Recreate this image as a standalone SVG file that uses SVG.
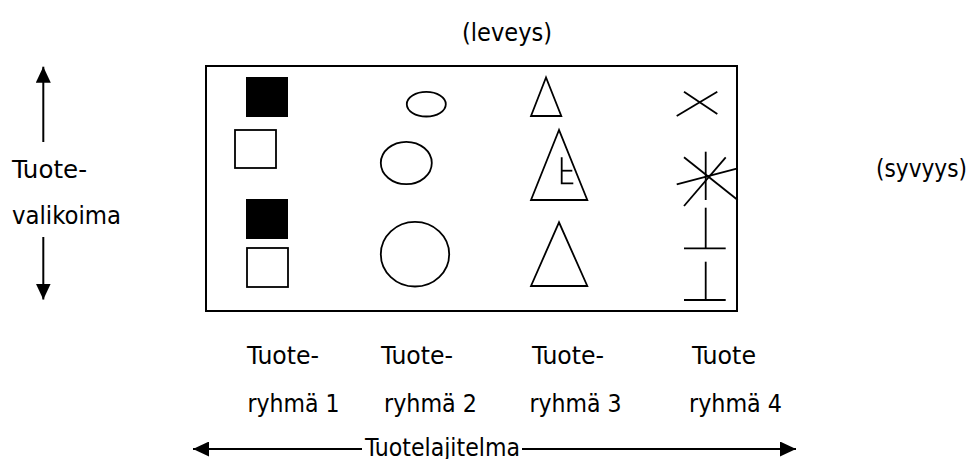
<svg xmlns="http://www.w3.org/2000/svg" width="969" height="459" viewBox="0 0 969 459">
  <style>
    .lbl { font-family: 'DejaVu Sans Condensed', 'DejaVu Sans', sans-serif; font-size: 25px; fill: #000; }
    .shape { fill: none; stroke: #000; stroke-width: 1.8; }
    .solid { fill: #000; stroke: none; }
    .frame { fill: #fff; stroke: #000; stroke-width: 2; }
    .arrow { stroke: #000; stroke-width: 2; fill: none; }
  </style>
  <defs>
    <marker id="head" viewBox="0 0 16 15" refX="16" refY="7.5" markerWidth="16" markerHeight="15" markerUnits="userSpaceOnUse" orient="auto">
      <path d="M0,0 L16,7.5 L0,15 Z" fill="#000"/>
    </marker>
  </defs>

  <rect width="969" height="459" fill="#fff"/>

  <!-- assortment frame -->
  <g id="frame">
    <rect class="frame" x="206" y="66" width="531" height="245"/>
  </g>

  <!-- group 1: squares -->
  <g id="group1">
    <rect class="solid" x="246" y="77" width="42" height="40"/>
    <rect class="shape" x="235" y="130" width="41" height="38"/>
    <rect class="solid" x="246" y="199" width="42" height="40"/>
    <rect class="shape" x="247" y="248" width="41" height="39"/>
  </g>

  <!-- group 2: ellipses -->
  <g id="group2">
    <ellipse class="shape" cx="426.3" cy="104.2" rx="19.5" ry="12.3"/>
    <ellipse class="shape" cx="406.3" cy="163" rx="25.5" ry="21.2"/>
    <ellipse class="shape" cx="415" cy="254.2" rx="34.2" ry="32.3"/>
  </g>

  <!-- group 3: triangles -->
  <g id="group3">
    <polygon class="shape" points="546,77.5 531,116 561.3,116"/>
    <polygon class="shape" points="559,130 531,200 587.3,200"/>
    <polyline class="shape" points="561.7,157.3 561.7,183.3 573.3,183.3"/>
    <line class="shape" x1="561.7" y1="170.7" x2="572.3" y2="170.7"/>
    <polygon class="shape" points="559,222.3 531,286 587.3,286"/>
  </g>

  <!-- group 4: crosses and stands -->
  <g id="group4">
    <line class="shape" x1="676.7" y1="116" x2="717.3" y2="91.7"/>
    <line class="shape" x1="684" y1="91.7" x2="717.3" y2="114"/>
    <line class="shape" x1="705.7" y1="151.7" x2="705.7" y2="200"/>
    <line class="shape" x1="684" y1="157.3" x2="737.7" y2="200"/>
    <line class="shape" x1="684" y1="206" x2="725.7" y2="157.3"/>
    <line class="shape" x1="676.7" y1="184.3" x2="737.7" y2="168.3"/>
    <line class="shape" x1="705.7" y1="207.7" x2="705.7" y2="248.3"/>
    <line class="shape" x1="684" y1="248.3" x2="725.7" y2="248.3"/>
    <line class="shape" x1="705.7" y1="261.7" x2="705.7" y2="300"/>
    <line class="shape" x1="684" y1="300" x2="725.7" y2="300"/>
  </g>

  <!-- axis arrows -->
  <g id="connectors">
    <line class="arrow" x1="43.3" y1="142" x2="43.3" y2="66.7" marker-end="url(#head)"/>
    <line class="arrow" x1="43.3" y1="237" x2="43.3" y2="299.5" marker-end="url(#head)"/>
    <line class="arrow" x1="362" y1="449" x2="193" y2="449" marker-end="url(#head)"/>
    <line class="arrow" x1="522" y1="449" x2="796" y2="449" marker-end="url(#head)"/>
  </g>

  <!-- labels -->
  <g id="labels">
    <text class="lbl" x="462" y="41" textLength="90" lengthAdjust="spacingAndGlyphs">(leveys)</text>
    <text class="lbl" x="876" y="177" textLength="91" lengthAdjust="spacingAndGlyphs">(syvyys)</text>
    <text class="lbl" x="12" y="178" textLength="75" lengthAdjust="spacingAndGlyphs">Tuote-</text>
    <text class="lbl" x="12" y="224" textLength="109" lengthAdjust="spacingAndGlyphs">valikoima</text>

    <text class="lbl" x="247" y="364" textLength="72" lengthAdjust="spacingAndGlyphs">Tuote-</text>
    <text class="lbl" x="381" y="364" textLength="72" lengthAdjust="spacingAndGlyphs">Tuote-</text>
    <text class="lbl" x="532" y="364" textLength="72" lengthAdjust="spacingAndGlyphs">Tuote-</text>
    <text class="lbl" x="692" y="364" textLength="64" lengthAdjust="spacingAndGlyphs">Tuote</text>

    <text class="lbl" x="247.5" y="412" textLength="92" lengthAdjust="spacingAndGlyphs">ryhmä 1</text>
    <text class="lbl" x="384" y="412" textLength="93" lengthAdjust="spacingAndGlyphs">ryhmä 2</text>
    <text class="lbl" x="529.5" y="412" textLength="92" lengthAdjust="spacingAndGlyphs">ryhmä 3</text>
    <text class="lbl" x="689" y="412" textLength="93" lengthAdjust="spacingAndGlyphs">ryhmä 4</text>

    <text class="lbl" x="365" y="456" textLength="155" lengthAdjust="spacingAndGlyphs">Tuotelajitelma</text>
  </g>
</svg>
